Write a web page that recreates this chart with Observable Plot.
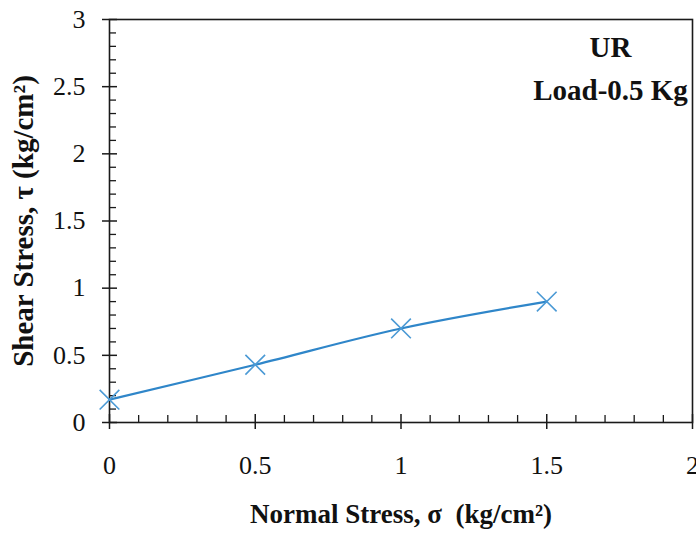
<!DOCTYPE html>
<html>
<head>
<meta charset="utf-8">
<script src="https://cdn.jsdelivr.net/npm/d3@7"></script>
<script src="https://cdn.jsdelivr.net/npm/@observablehq/plot@0.6"></script>
<style>
  html, body { margin: 0; padding: 0; background: #fff; }
  #chart { position: relative; width: 696px; height: 538px; }
  #chart svg { display: block; }
</style>
</head>
<body>
<div id="chart"></div>
<script>
// Direct shear test: normal stress vs. shear stress
const normalStress = [0, 0.5, 1.0, 1.5];
const shearStress = [0.17, 0.43, 0.70, 0.90];

const xMajor = [0, 0.5, 1, 1.5, 2];
const yMajor = [0, 0.5, 1, 1.5, 2, 2.5, 3];
const xMinor = d3.range(0, 21).map(i => i / 10).filter(v => !xMajor.includes(v));
const yMinor = d3.range(0, 31).map(i => i / 10).filter(v => !yMajor.includes(v));

const sampleLabel = "UR";
const loadLabel = "Load-0.5 Kg";
const xTitle = "Normal Stress, σ  (kg/cm²)";
const yTitle = "Shear Stress, τ (kg/cm²)";

const points = normalStress.map((x, i) => ({x, y: shearStress[i]}));

const W = 696, H = 538;
const M = {left: 109, right: 4, top: 19, bottom: 116};
const plotW = W - M.left - M.right;
const plotH = H - M.top - M.bottom;

const serif = "'Liberation Serif', 'Times New Roman', serif";
const ink = "#1a1a1a";

const chart = Plot.plot({
  width: W,
  height: H,
  marginLeft: M.left,
  marginRight: M.right,
  marginTop: M.top,
  marginBottom: M.bottom,
  style: {fontFamily: serif, background: "#fff"},
  x: {domain: [0, 2], axis: null},
  y: {domain: [0, 3], axis: null},
  marks: [
    Plot.frame({stroke: ink, strokeWidth: 1.6}),
    // major ticks crossing the axis lines (7px outside, 8px inside)
    Plot.tickY(yMajor, {y: d => d, insetLeft: -7, insetRight: plotW - 8, stroke: ink, strokeWidth: 1.5}),
    Plot.tickX(xMajor, {x: d => d, insetBottom: -7, insetTop: plotH - 8, stroke: ink, strokeWidth: 1.5}),
    // minor ticks pointing into the plot
    Plot.tickY(yMinor, {y: d => d, insetRight: plotW - 7, stroke: ink, strokeWidth: 1.3}),
    Plot.tickX(xMinor, {x: d => d, insetTop: plotH - 7, stroke: ink, strokeWidth: 1.3}),
    // tick labels
    Plot.axisY(yMajor, {anchor: "left", tickSize: 0, tickPadding: 24, fontSize: 26, fill: "#111", tickFormat: d => String(d), label: null}),
    Plot.axisX(xMajor, {anchor: "bottom", tickSize: 0, tickPadding: 33, fontSize: 26, fill: "#111", tickFormat: d => String(d), label: null}),
    // data line and markers
    Plot.line(points, {x: "x", y: "y", curve: "catmull-rom", stroke: "#2f86c9", strokeWidth: 2.2}),
    Plot.dot(points, {x: "x", y: "y", symbol: "times", r: 9, stroke: "#4b9ad5", strokeWidth: 1.6, fill: "none"}),
    // annotation in the upper-right corner
    Plot.text([sampleLabel], {frameAnchor: "top-right", dx: -82, dy: 28, text: d => d, textAnchor: "middle", lineAnchor: "middle", fontSize: 29, fontWeight: "bold", fill: "#111"}),
    Plot.text([loadLabel], {frameAnchor: "top-right", dx: -82, dy: 71, text: d => d, textAnchor: "middle", lineAnchor: "middle", fontSize: 29, fontWeight: "bold", fill: "#111"}),
    // axis titles
    Plot.text([xTitle], {frameAnchor: "bottom", dy: 92, text: d => d, textAnchor: "middle", lineAnchor: "middle", fontSize: 27, fontWeight: "bold", fill: "#111"}),
    Plot.text([yTitle], {frameAnchor: "left", dx: -86, text: d => d, rotate: -90, textAnchor: "middle", lineAnchor: "middle", fontSize: 29, fontWeight: "bold", fill: "#111"})
  ]
});

document.getElementById("chart").appendChild(chart);
</script>
</body>
</html>
